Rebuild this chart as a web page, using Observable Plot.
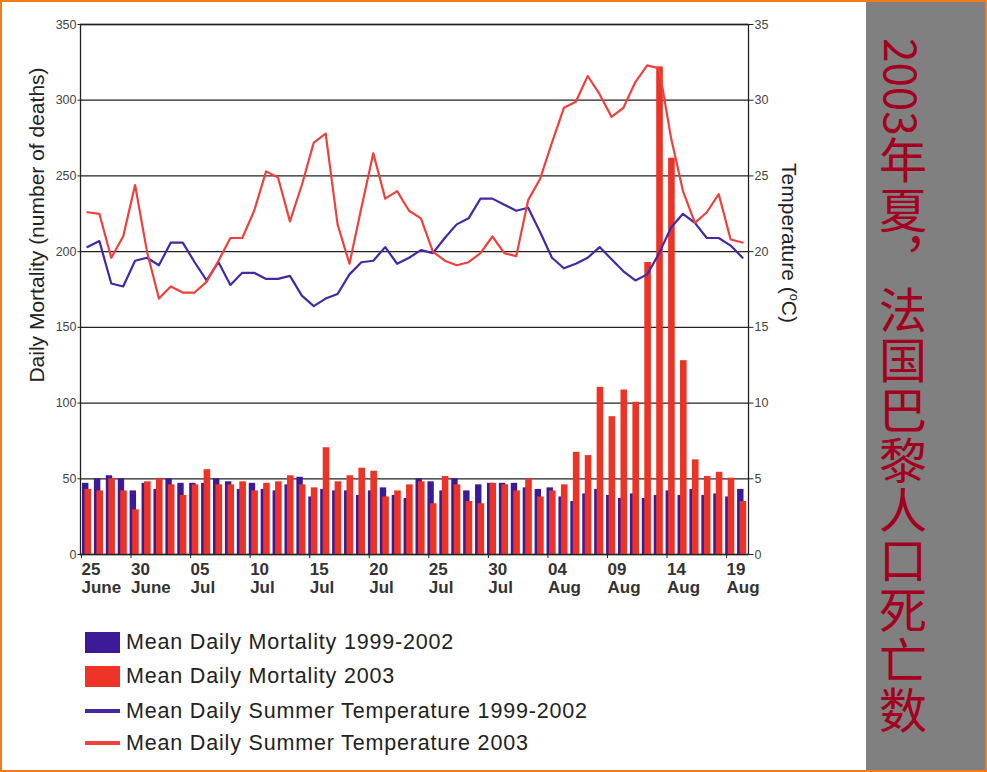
<!DOCTYPE html>
<html>
<head>
<meta charset="utf-8">
<script src="https://cdn.jsdelivr.net/npm/d3@7"></script>
<script src="https://cdn.jsdelivr.net/npm/@observablehq/plot@0.6"></script>
<style>
  html, body { margin: 0; padding: 0; background: #fff; }
  #page { position: relative; width: 987px; height: 772px; overflow: hidden; background: #fff;
          font-family: "Liberation Sans", Arial, sans-serif; }
  #chart { position: absolute; left: 0; top: 0; }
  .abs { position: absolute; white-space: nowrap; }
  .ylab { font-size: 21px; color: #222; transform: translate(-50%, -50%) rotate(-90deg); }
  .tlab { font-size: 21px; color: #222; transform: translate(-50%, -50%) rotate(90deg); }
  .leg { font-size: 21.5px; letter-spacing: 0.82px; color: #222; line-height: 24px; }
  #panel { position: absolute; left: 866px; top: 0; width: 121px; height: 772px; background: #808080; }
  #vtitle { position: absolute; left: 878px; top: 38px; writing-mode: vertical-rl;
            font-family: "Noto Sans CJK SC", sans-serif; font-size: 48px; line-height: 50px;
            color: #a3001f; letter-spacing: 2px; }
  #border { position: absolute; left: 0; top: 0; width: 987px; height: 772px; box-sizing: border-box;
            border: 2px solid #f07d1c; pointer-events: none; }
</style>
</head>
<body>
<div id="page">
  <div id="chart"></div>
  <div class="abs ylab" style="left:37px; top:225px;">Daily Mortality (number of deaths)</div>
  <div class="abs tlab" style="left:789px; top:243px;">Temperature (<sup style="font-size:0.6em">o</sup>C)</div>
  <div id="legend"></div>
  <div id="panel"></div>
  <div id="vtitle"><span style="font-size:44px; letter-spacing:0">2003</span>年夏，法国巴黎人口死亡数</div>
  <div id="border"></div>
</div>
<script>
// ---- data ----
const startDay = "2003-06-25";   // first day shown
const endDay = "2003-08-20";     // exclusive end

// Mean daily mortality 1999-2002 (deaths)
const mortality19992002 = [47, 50, 52, 50, 42, 47, 43, 50, 47, 47,
  47, 50, 48, 43, 47, 43, 42, 46, 51, 38,
  43, 42, 42, 39, 42, 44, 39, 37, 50, 48,
  42, 50, 42, 46, 47, 47, 47, 44, 43, 44,
  38, 35, 40, 43, 39, 37, 40, 37, 39, 42,
  39, 43, 39, 40, 38, 43];

// Mean daily mortality 2003 (deaths)
const mortality2003 = [43, 42, 50, 42, 29.5, 48, 50, 46, 39, 46,
  56, 46, 46, 48, 42, 47, 48, 52, 46, 44,
  70.5, 48, 52, 57, 55, 38, 42, 46, 48, 33.5,
  51.5, 46, 35, 33.5, 47, 46, 42, 50, 38, 42,
  46, 67.5, 65.3, 110.4, 91, 108.6, 100.5, 192.9, 322, 261.7,
  128, 62.5, 51.5, 54.3, 50.4, 35];

// Mean daily summer temperature 1999-2002 (°C)
const temp19992002 = [20.3, 20.7, 17.9, 17.7, 19.4, 19.6, 19.1, 20.6, 20.6, 19.3,
  18.1, 19.3, 17.8, 18.6, 18.6, 18.2, 18.2, 18.4, 17.1, 16.4,
  16.9, 17.2, 18.5, 19.3, 19.4, 20.3, 19.2, 19.6, 20.1, 19.9,
  20.9, 21.8, 22.2, 23.5, 23.5, 23.1, 22.7, 22.9, 21.3, 19.6,
  18.9, 19.2, 19.6, 20.3, 19.5, 18.7, 18.1, 18.5, 19.9, 21.6,
  22.5, 21.9, 20.9, 20.9, 20.4, 19.6];

// Mean daily summer temperature 2003 (°C)
const temp2003 = [22.6, 22.5, 19.6, 21.0, 24.4, 20.0, 16.9, 17.7, 17.3, 17.3,
  18.0, 19.4, 20.9, 20.9, 22.7, 25.3, 24.9, 22.0, 24.4, 27.2,
  27.8, 21.8, 19.2, 22.9, 26.5, 23.5, 24.0, 22.7, 22.2, 20.0,
  19.4, 19.1, 19.3, 19.9, 21.0, 19.9, 19.7, 23.4, 24.8, 27.2,
  29.5, 29.9, 31.6, 30.4, 28.9, 29.5, 31.2, 32.3, 32.1, 27.5,
  24.0, 21.9, 22.6, 23.8, 20.8, 20.6];

// axis ticks
const xTickDates = ["2003-06-25", "2003-06-30", "2003-07-05", "2003-07-10", "2003-07-15", "2003-07-20",
  "2003-07-25", "2003-07-30", "2003-08-04", "2003-08-09", "2003-08-14", "2003-08-19"];
const xTickLabels = ["25\nJune", "30\nJune", "05\nJul", "10\nJul", "15\nJul", "20\nJul",
  "25\nJul", "30\nJul", "04\nAug", "09\nAug", "14\nAug", "19\nAug"];
const mortalityTicks = [0, 50, 100, 150, 200, 250, 300, 350];
const temperatureTicks = [0, 5, 10, 15, 20, 25, 30, 35];

const legendItems = [
  {label: "Mean Daily Mortality 1999-2002", kind: "box", key: "blue"},
  {label: "Mean Daily Mortality 2003", kind: "box", key: "red"},
  {label: "Mean Daily Summer Temperature 1999-2002", kind: "line", key: "blueLine"},
  {label: "Mean Daily Summer Temperature 2003", kind: "line", key: "redLine"}
];

// ---- styles ----
const colors = {blue: "#3c1a97", red: "#ec3326", blueLine: "#4628a2", redLine: "#f0403e"};
const tempFactor = 10; // 35 °C on the right axis lines up with 350 deaths on the left axis

// ---- build table ----
const dates = d3.utcDay.range(new Date(startDay), new Date(endDay));
const rows = dates.map((date, i) => ({
  date,
  mid: d3.utcHour.offset(date, 12),
  m1: mortality19992002[i],
  m2: mortality2003[i],
  t1: temp19992002[i],
  t2: temp2003[i]
}));

const tickDates = xTickDates.map(s => new Date(s));
const labelByTime = new Map(tickDates.map((d, i) => [+d, xTickLabels[i]]));

const xAxisStyle = {
  anchor: "bottom", tickSize: 4, tickPadding: 4, fontSize: 17, fontWeight: "bold",
  textAnchor: "start", lineHeight: 1.06, fill: "#333", stroke: "#222", label: null,
  tickFormat: d => labelByTime.get(+d)
};

const chart = Plot.plot({
  width: 866,
  height: 600,
  marginTop: 24,
  marginBottom: 46,
  marginLeft: 80,
  marginRight: 118,
  style: {fontFamily: "'Liberation Sans', Arial, sans-serif", background: "white", overflow: "visible"},
  x: {type: "utc", domain: [d3.utcHour.offset(new Date(startDay), -2), new Date(endDay)]},
  y: {domain: [0, 350]},
  marks: [
    Plot.gridY(mortalityTicks, {stroke: "#222", strokeOpacity: 1, strokeWidth: 1.3}),
    Plot.rectY(rows, {x: "date", interval: d3.utcDay, y: "m1", fill: colors.blue, insetLeft: 1, insetRight: 4.5}),
    Plot.rectY(rows, {x: "date", interval: d3.utcDay, y: "m2", fill: colors.red, insetLeft: 3.5, insetRight: 1.8}),
    Plot.line(rows, {x: "mid", y: d => d.t1 * tempFactor, stroke: colors.blueLine, strokeWidth: 2.2}),
    Plot.line(rows, {x: "mid", y: d => d.t2 * tempFactor, stroke: colors.redLine, strokeWidth: 2.2}),
    Plot.frame({stroke: "#222", strokeWidth: 1.3}),
    Plot.axisY(mortalityTicks, {anchor: "left", tickSize: 2.5, tickPadding: 1.5, fontSize: 12.5, fill: "#444", stroke: "#222", label: null}),
    Plot.axisY(temperatureTicks.map(t => t * tempFactor), {anchor: "right", tickFormat: d => d / tempFactor,
      tickSize: 4.5, tickPadding: 1.5, fontSize: 12.5, fill: "#444", stroke: "#222", label: null}),
    Plot.axisX(tickDates.slice(0, 1), {...xAxisStyle, dx: 0}),
    Plot.axisX(tickDates.slice(1), {...xAxisStyle, dx: -10})
  ]
});
document.getElementById("chart").appendChild(chart);

// ---- legend ----
const legend = document.getElementById("legend");
const rowCenters = [642, 676, 711, 743];
legendItems.forEach((item, i) => {
  const c = rowCenters[i];
  const sw = document.createElement("div");
  sw.className = "abs";
  const h = item.kind === "box" ? 21 : 4.5;
  sw.style.cssText = `left:85px; top:${c - h / 2}px; width:35px; height:${h}px; background:${colors[item.key]};`;
  legend.appendChild(sw);
  const t = document.createElement("div");
  t.className = "abs leg";
  t.style.cssText = `left:126px; top:${c - 12}px;`;
  t.textContent = item.label;
  legend.appendChild(t);
});
</script>
</body>
</html>
